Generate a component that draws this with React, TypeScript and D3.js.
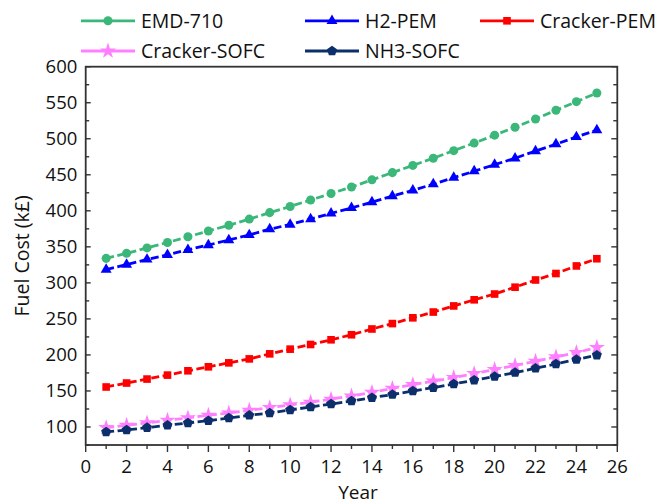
import React from "react";
import * as d3 from "d3";

const years = d3.range(1, 26);
const emd710 = [334, 341, 348.5, 356, 364, 372, 380, 388.5, 397.5, 406, 415, 424, 433, 443, 453, 463, 473, 483.5, 494, 505, 516, 527.5, 539.5, 551.5, 563.5];
const h2pem = [318.5, 325.5, 332.5, 339, 346, 352.5, 359.5, 366.5, 374.5, 381, 388.5, 396.5, 404, 412, 420.5, 428.5, 437, 446, 455, 464, 473, 483, 492.5, 502.5, 512];
const crackerPem = [155.5, 161, 166.5, 172, 178, 183.5, 189, 194.5, 201.5, 208, 214.5, 221, 228, 236, 243.5, 251.5, 259.5, 268, 276.5, 284.5, 294, 304, 313, 323.5, 333.5];
const crackerSofc = [99, 102.4, 105.6, 109.3, 112.5, 116.3, 119.4, 123.2, 126.9, 130.6, 134.3, 138.5, 143, 148, 153.5, 158.8, 163.5, 168.6, 174.1, 179.7, 185.3, 191.2, 197.2, 203.3, 210.3];
const nh3Sofc = [93.1, 95.9, 99.1, 102.4, 105.6, 108.8, 112.5, 116.2, 119.4, 123.6, 127.8, 131.9, 136.1, 140.7, 145, 150, 154.6, 159.7, 164.9, 170, 175.5, 181.5, 187.5, 193.6, 199.6];

const seriesNames = ["EMD-710", "H2-PEM", "Cracker-PEM", "Cracker-SOFC", "NH3-SOFC"];
const seriesValues = [emd710, h2pem, crackerPem, crackerSofc, nh3Sofc];
const seriesColors = ["#3bb77a", "#0000ff", "#ff0000", "#ff80ff", "#0b2f6b"];

const xTicks = d3.range(0, 27, 2);
const xMinor = d3.range(1, 26, 2);
const yTicks = d3.range(100, 601, 50);
const yMinor = d3.range(75, 600, 50);

const pentagon = {
  draw(ctx: any, size: number) {
    const r = Math.sqrt(size / 2.3776);
    for (let i = 0; i < 5; i++) {
      const a = -Math.PI / 2 + (i * 2 * Math.PI) / 5;
      const px = r * Math.cos(a);
      const py = r * Math.sin(a);
      if (i === 0) ctx.moveTo(px, py);
      else ctx.lineTo(px, py);
    }
    ctx.closePath();
  },
};

const symbolTypes: any[] = [d3.symbolCircle, d3.symbolTriangle, d3.symbolSquare, d3.symbolStar, pentagon];
const symbolSizes = [64, 52, 58, 80, 66];

const W = 658;
const H = 504;
const L = 85.7;
const R = 617.3;
const T = 66.7;
const B = 445;

const FONT = "'Open Sans', 'Noto Sans', sans-serif";

export default function App() {
  const x = d3.scaleLinear().domain([0, 26]).range([L, R]);
  const y = d3.scaleLinear().domain([75, 600]).range([B, T]);
  const line = d3
    .line<number>()
    .x((_, i) => x(years[i]))
    .y((d) => y(d));

  const legendItems = [
    { i: 0, lx: 81, ly: 20.8 },
    { i: 1, lx: 305, ly: 20.8 },
    { i: 2, lx: 480, ly: 20.8 },
    { i: 3, lx: 81, ly: 51 },
    { i: 4, lx: 305, ly: 51 },
  ];

  const axisColor = "#333";

  return (
    <div style={{ position: "fixed", left: 0, top: 0 }}>
      <svg width={W} height={H} style={{ display: "block", background: "#fff" }}>
        {/* series */}
        {seriesValues.map((vals, si) => (
          <g key={si}>
            <path
              d={line(vals) || ""}
              fill="none"
              stroke={seriesColors[si]}
              strokeWidth={2.8}
              strokeDasharray="8,3.5"
            />
            {vals.map((v, i) => (
              <path
                key={i}
                transform={`translate(${x(years[i])},${y(v)})`}
                d={d3.symbol().type(symbolTypes[si]).size(symbolSizes[si])() || ""}
                fill={seriesColors[si]}
              />
            ))}
          </g>
        ))}

        {/* frame */}
        <rect x={L} y={T} width={R - L} height={B - T} fill="none" stroke={axisColor} strokeWidth={1.8} />

        {/* bottom ticks */}
        {xTicks.map((t) => (
          <g key={"xt" + t}>
            <line x1={x(t)} x2={x(t)} y1={B} y2={B + 7} stroke={axisColor} strokeWidth={1.4} />
            <text x={x(t)} y={B + 28.3} textAnchor="middle" fontFamily={FONT} fontSize={18.5} fill="#111">
              {t}
            </text>
          </g>
        ))}
        {xMinor.map((t) => (
          <line key={"xm" + t} x1={x(t)} x2={x(t)} y1={B} y2={B + 4} stroke={axisColor} strokeWidth={1.4} />
        ))}

        {/* left and right ticks */}
        {yTicks.map((t) => (
          <g key={"yt" + t}>
            <line x1={L} x2={L + 5} y1={y(t)} y2={y(t)} stroke={axisColor} strokeWidth={1.4} />
            <line x1={R} x2={R - 6} y1={y(t)} y2={y(t)} stroke={axisColor} strokeWidth={1.4} />
            <text x={L - 8.4} y={y(t)} dy="0.35em" textAnchor="end" fontFamily={FONT} fontSize={18.5} fill="#111">
              {t}
            </text>
          </g>
        ))}
        {yMinor.map((t) => (
          <g key={"ym" + t}>
            <line x1={L} x2={L + 3.5} y1={y(t)} y2={y(t)} stroke={axisColor} strokeWidth={1.4} />
            <line x1={R} x2={R - 4} y1={y(t)} y2={y(t)} stroke={axisColor} strokeWidth={1.4} />
          </g>
        ))}

        {/* axis titles */}
        <text x={358} y={499} textAnchor="middle" fontFamily={FONT} fontSize={19} fill="#111">
          Year
        </text>
        <text
          transform={`translate(28.5,${(T + B) / 2}) rotate(-90)`}
          textAnchor="middle"
          fontFamily={FONT}
          fontSize={19.5}
          fill="#111"
        >
          Fuel Cost (k£)
        </text>

        {/* legend */}
        {legendItems.map(({ i, lx, ly }) => (
          <g key={"lg" + i}>
            <line x1={lx} x2={lx + 54} y1={ly} y2={ly} stroke={seriesColors[i]} strokeWidth={2.8} />
            <path
              transform={`translate(${lx + 27},${ly})`}
              d={d3.symbol().type(symbolTypes[i]).size(symbolSizes[i])() || ""}
              fill={seriesColors[i]}
            />
            <text x={lx + 60} y={ly} dy="0.355em" fontFamily={FONT} fontSize={19.5} fill="#111">
              {seriesNames[i]}
            </text>
          </g>
        ))}
      </svg>
    </div>
  );
}
